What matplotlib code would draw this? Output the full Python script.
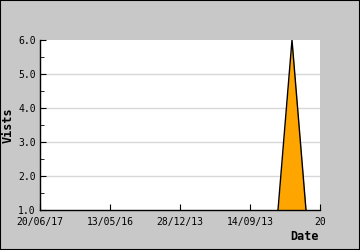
import matplotlib
matplotlib.use("Agg")
import matplotlib.pyplot as plt
from matplotlib.patches import Rectangle

# donnees
dates = ["20/06/17", "13/05/16", "28/12/13", "14/09/13", "20"]
x_pos = [3.4, 3.6, 3.8]
visites = [1.0, 6.0, 1.0]

fig = plt.figure(figsize=(3.6, 2.5), dpi=100)
fig.patch.set_facecolor("#c8c8c8")
fig.patches.append(Rectangle((0, 0), 1, 1, transform=fig.transFigure,
                             fill=False, edgecolor="black", linewidth=1.5))

ax = fig.add_axes([40 / 360, 40 / 250, 280 / 360, 170 / 250])
ax.set_facecolor("white")

ax.fill_between(x_pos, visites, 1.0, color="#ffa500", linewidth=0, zorder=2)
ax.plot(x_pos, visites, color="black", linewidth=1, zorder=3)

ax.set_xlim(0, 4)
ax.set_ylim(1, 6)
ax.set_xticks(range(len(dates)))
ax.set_xticklabels(dates)
ax.set_yticks([1, 2, 3, 4, 5, 6])
ax.set_yticklabels(["%.1f" % v for v in [1, 2, 3, 4, 5, 6]])
ax.set_yticks([1.5, 2.5, 3.5, 4.5, 5.5], minor=True)

for y in [2, 3, 4, 5]:
    ax.axhline(y, color="#d8d8d8", linewidth=1, zorder=1)

ax.spines["top"].set_visible(False)
ax.spines["right"].set_visible(False)
ax.spines["left"].set_linewidth(1)
ax.spines["bottom"].set_linewidth(1)

ax.tick_params(axis="both", which="both", direction="in", color="black",
               labelsize=7, pad=3)
ax.tick_params(axis="y", which="major", length=4)
ax.tick_params(axis="y", which="minor", length=3)
ax.tick_params(axis="x", which="major", length=4, pad=5)
for lab in ax.get_xticklabels() + ax.get_yticklabels():
    lab.set_family("DejaVu Sans Mono")

ax.set_ylabel("Vists", family="DejaVu Sans Mono", fontweight="bold",
              fontsize=8.5)
ax.yaxis.set_label_coords(-0.09, 0.5)
fig.text(319 / 360, 1 - 236 / 250, "Date", family="DejaVu Sans Mono",
         fontweight="bold", fontsize=8.5, ha="right", va="center")

fig.savefig("out.png", dpi=100, facecolor=fig.get_facecolor())
